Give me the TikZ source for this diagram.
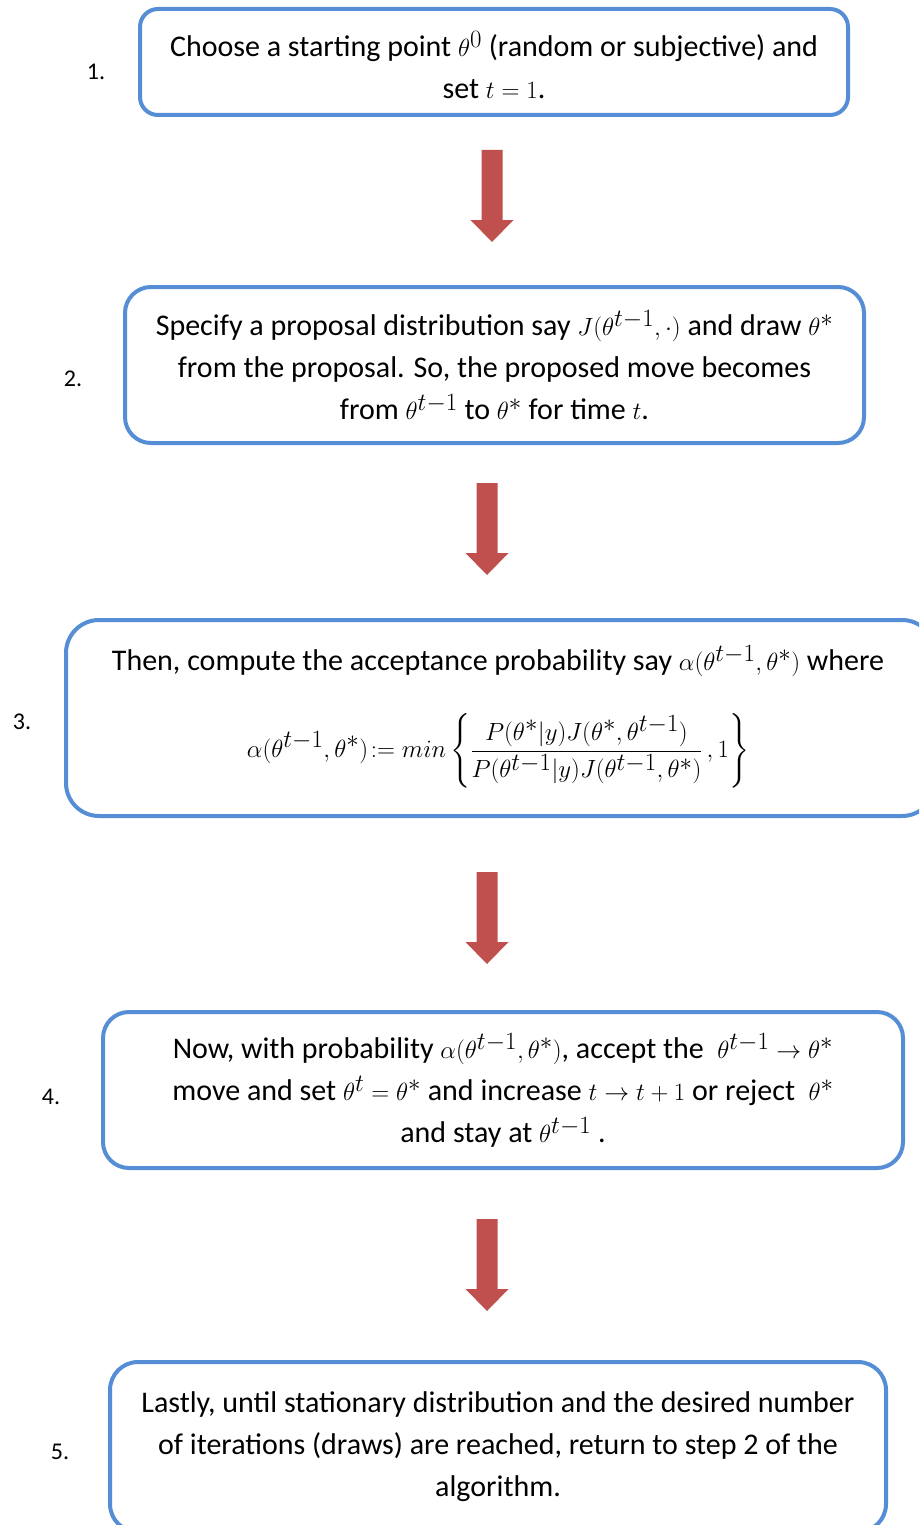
\documentclass[tikz,border=0pt]{standalone}
\usepackage{amsmath}
\usepackage{fontspec}
\setmainfont{Carlito}
\DeclareMathSizes{30}{34}{23}{18}
\definecolor{boxblue}{RGB}{85,142,213}
\definecolor{arrowred}{RGB}{192,80,77}
\newcommand\blockarrow[3]{%
  \coordinate (#1) at (#2,#3);
  \fill[arrowred] (#1) ++(-10.5,0) -- ++(21,0) -- ++(0,70) -- ++(11,0) -- ++(-21.5,22) -- ++(-21.5,-22) -- ++(11,0) -- cycle;}
\begin{document}
\begin{tikzpicture}[x=1pt,y=-1pt,
  stepbox/.style={draw=boxblue, line width=4pt, fill=white, align=center, inner sep=0pt,
    font=\fontsize{30}{42}\selectfont},
  steptext/.style={align=center, inner sep=0pt, font=\fontsize{30}{42}\selectfont},
  numlabel/.style={font=\fontsize{24}{26}\selectfont, inner sep=0pt}]
\useasboundingbox (0,0) rectangle (919,1525);
\clip (0,0) rectangle (919,1525);
\fill[white] (0,0) rectangle (919,1525);

\node[stepbox, minimum width=708pt, minimum height=106pt, rounded corners=18pt] (b1) at (494,62) {};
\node[steptext] (t1) at (494,65)
  {Choose a starting point $\theta^0$ (random or subjective) and\\ set $t=1$.};
\node[numlabel] (n1) at (96,72) {1.};

\blockarrow{a1}{492}{150}

\node[stepbox, minimum width=739pt, minimum height=156pt, rounded corners=26pt] (b2) at (494.5,365)
  {Specify a proposal distribution say $J(\theta^{t-1},\cdot)$ and draw $\theta^*$\\
   from the proposal. So, the proposed move becomes\\
   from $\theta^{t-1}$ to $\theta^*$ for time $t$.};
\node[numlabel] (n2) at (73,379) {2.};

\blockarrow{a2}{487}{483}

\node[stepbox, minimum width=869pt, minimum height=196pt, rounded corners=33pt] (b3) at (500.5,718) {};
\node[steptext] (t3) at (498,717)
  {Then, compute the acceptance probability say $\alpha(\theta^{t-1},\theta^*)$ where\\[36pt]
   $\displaystyle \alpha(\theta^{t-1},\theta^*)\!:= min\left\{\frac{P(\theta^*|y)J(\theta^*,\theta^{t-1})}{P(\theta^{t-1}|y)J(\theta^{t-1},\theta^*)}\,,1\right\}$};
\node[numlabel] (n3) at (22,722) {3.};

\blockarrow{a3}{487}{872}

\node[stepbox, minimum width=800pt, minimum height=156pt, rounded corners=26pt] (b4) at (503,1090)
  {Now, with probability $\alpha(\theta^{t-1},\theta^*)$, accept the ~$\theta^{t-1}\rightarrow\theta^*$\\
   move and set $\theta^t=\theta^*$ and increase $t\rightarrow t+1$ or reject ~$\theta^*$\\
   and stay at $\theta^{t-1}$ .};
\node[numlabel] (n4) at (51,1097) {4.};

\blockarrow{a4}{487}{1219}

\node[stepbox, minimum width=776pt, minimum height=170pt, rounded corners=28pt] (b5) at (498,1447)
  {Lastly, until stationary distribution and the desired number\\
   of iterations (draws) are reached, return to step 2 of the\\
   algorithm.};
\node[numlabel] (n5) at (60,1452) {5.};
\end{tikzpicture}
\end{document}
